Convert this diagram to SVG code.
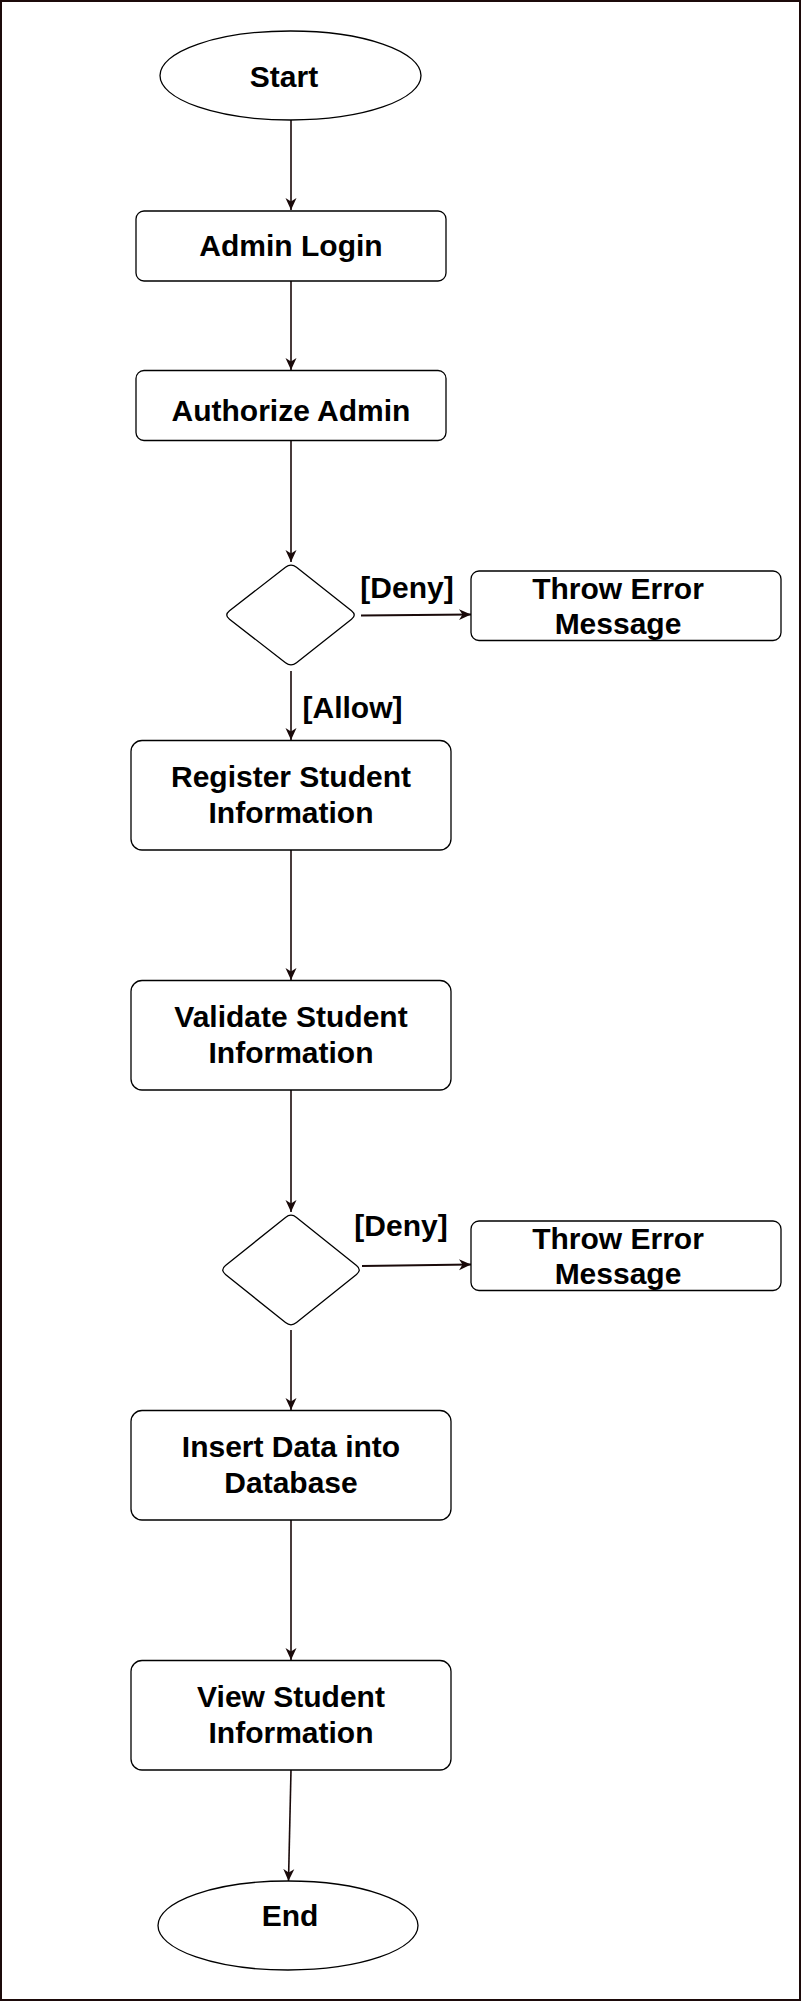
<svg xmlns="http://www.w3.org/2000/svg" width="802" height="2001" viewBox="0 0 802 2001">
<style>
.n{fill:#fff;stroke:#000;stroke-width:1.3}
.t{font-family:"Liberation Sans",Arial,sans-serif;font-weight:bold;font-size:30px;fill:#000;text-anchor:middle}
.c{fill:none;stroke:#1a0a0a;stroke-width:1.6}
.d{fill:none;stroke:#1a0a0a;stroke-width:2.2}
</style>
<defs>
<marker id="ah" markerUnits="userSpaceOnUse" viewBox="0 0 12 12" refX="12" refY="6" markerWidth="12" markerHeight="12" orient="auto">
<path d="M0,0.5 L12,6 L0,11.5 L3.5,6 Z" fill="#1a0a0a"/>
</marker>
</defs>
<rect x="1" y="1" width="799" height="1999" fill="#fff" stroke="#1c0a0a" stroke-width="2"/>
<g id="connectors">
<line class="c" x1="291" y1="120" x2="291" y2="210" marker-end="url(#ah)"/>
<line class="c" x1="291" y1="281" x2="291" y2="370" marker-end="url(#ah)"/>
<line class="c" x1="291" y1="441" x2="291" y2="562" marker-end="url(#ah)"/>
<line class="d" x1="361" y1="615.5" x2="471" y2="614.5" marker-end="url(#ah)"/>
<line class="c" x1="291" y1="671" x2="291" y2="740" marker-end="url(#ah)"/>
<line class="c" x1="291" y1="850" x2="291" y2="980" marker-end="url(#ah)"/>
<line class="c" x1="291" y1="1090" x2="291" y2="1212" marker-end="url(#ah)"/>
<line class="d" x1="362" y1="1266" x2="471" y2="1264.5" marker-end="url(#ah)"/>
<line class="c" x1="291" y1="1330" x2="291" y2="1410" marker-end="url(#ah)"/>
<line class="c" x1="291" y1="1520" x2="291" y2="1660" marker-end="url(#ah)"/>
<line class="c" x1="291" y1="1770" x2="288.5" y2="1881" marker-end="url(#ah)"/>
<text class="t" x="407" y="598">[Deny]</text>
<text class="t" x="352.5" y="718">[Allow]</text>
<text class="t" x="401" y="1236">[Deny]</text>
</g>
<g id="start">
<ellipse class="n" cx="290.5" cy="75.5" rx="130.5" ry="44.5"/>
<text class="t" x="284" y="87">Start</text>
</g>
<g id="admin-login">
<rect class="n" x="136" y="211" width="310" height="70" rx="8"/>
<text class="t" x="291" y="256">Admin Login</text>
</g>
<g id="authorize-admin">
<rect class="n" x="136" y="370.5" width="310" height="70" rx="8"/>
<text class="t" x="291" y="421">Authorize Admin</text>
</g>
<g id="decision-1">
<path class="n" d="M285.5,567.3 Q291,563 296.5,567.3 L351.5,610.7 Q357,615 351.5,619.3 L296.5,662.7 Q291,667 285.5,662.7 L229.5,619.3 Q224,615 229.5,610.7 Z"/>
</g>
<g id="throw-error-1">
<rect class="n" x="471" y="571" width="310" height="69.5" rx="8"/>
<text class="t" x="618" y="599">Throw Error</text>
<text class="t" x="618" y="634">Message</text>
</g>
<g id="register-student">
<rect class="n" x="131" y="740.5" width="320" height="109.5" rx="11"/>
<text class="t" x="291" y="787">Register Student</text>
<text class="t" x="291" y="823">Information</text>
</g>
<g id="validate-student">
<rect class="n" x="131" y="980.5" width="320" height="109.5" rx="11"/>
<text class="t" x="291" y="1027">Validate Student</text>
<text class="t" x="291" y="1063">Information</text>
</g>
<g id="decision-2">
<path class="n" d="M285.5,1217.4 Q291,1213 296.5,1217.4 L356.5,1265.6 Q362,1270 356.5,1274.4 L296.5,1322.6 Q291,1327 285.5,1322.6 L225.5,1274.4 Q220,1270 225.5,1265.6 Z"/>
</g>
<g id="throw-error-2">
<rect class="n" x="471" y="1221" width="310" height="69.5" rx="8"/>
<text class="t" x="618" y="1249">Throw Error</text>
<text class="t" x="618" y="1284">Message</text>
</g>
<g id="insert-data">
<rect class="n" x="131" y="1410.5" width="320" height="109.5" rx="11"/>
<text class="t" x="291" y="1457">Insert Data into</text>
<text class="t" x="291" y="1493">Database</text>
</g>
<g id="view-student">
<rect class="n" x="131" y="1660.5" width="320" height="109.5" rx="11"/>
<text class="t" x="291" y="1707">View Student</text>
<text class="t" x="291" y="1743">Information</text>
</g>
<g id="end">
<ellipse class="n" cx="288" cy="1925.5" rx="130" ry="44.5"/>
<text class="t" x="290" y="1926">End</text>
</g>
</svg>
